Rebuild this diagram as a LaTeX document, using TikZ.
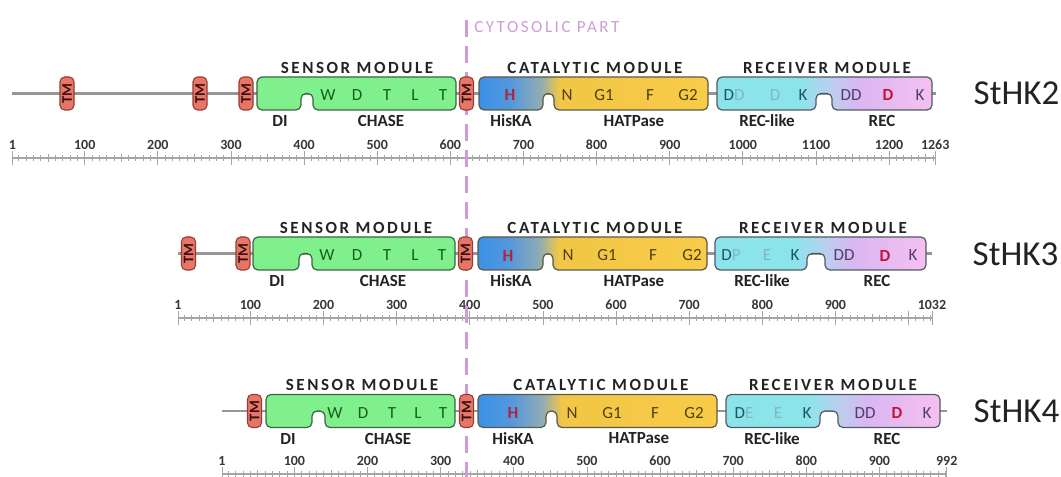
\documentclass[tikz,border=0pt]{standalone}
\usepackage{fontspec}
\setmainfont{Carlito}
\newfontfamily\titlefont[LetterSpace=15]{Carlito}
\newfontfamily\cytofont[LetterSpace=15]{Carlito}
\usetikzlibrary{calc}

\definecolor{bbgray}{RGB}{150,150,150}
\definecolor{tmfill}{RGB}{232,118,104}
\definecolor{tmdraw}{RGB}{150,60,50}
\definecolor{tmtext}{RGB}{55,15,15}
\definecolor{sensfill}{RGB}{128,240,140}
\definecolor{sensdraw}{RGB}{60,100,70}
\definecolor{sensl}{RGB}{20,95,30}
\definecolor{catdraw}{RGB}{90,90,70}
\definecolor{catA}{RGB}{58,145,232}
\definecolor{catB}{RGB}{85,152,220}
\definecolor{catC}{RGB}{145,172,180}
\definecolor{catD}{RGB}{242,198,70}
\definecolor{catE}{RGB}{248,204,72}
\definecolor{catl}{RGB}{80,62,15}
\definecolor{hcol}{RGB}{175,35,60}
\definecolor{recdraw}{RGB}{80,90,100}
\definecolor{recA}{RGB}{140,228,235}
\definecolor{recB}{RGB}{190,205,238}
\definecolor{recC}{RGB}{218,182,242}
\definecolor{recD}{RGB}{246,192,240}
\definecolor{recd}{RGB}{30,85,95}
\definecolor{recl}{RGB}{125,185,190}
\definecolor{recp}{RGB}{80,60,110}
\definecolor{redD}{RGB}{195,20,55}
\definecolor{labc}{RGB}{35,35,35}
\definecolor{rulc}{RGB}{165,165,165}
\definecolor{rlabc}{RGB}{55,55,55}
\definecolor{cyto}{RGB}{208,155,216}

\pgfdeclarehorizontalshading{catshade}{100bp}{color(0bp)=(catA); color(25bp)=(catA); color(32bp)=(catB); color(38.5bp)=(catC); color(42.5bp)=(catD); color(75bp)=(catE); color(100bp)=(catE)}
\pgfdeclarehorizontalshading{recshade}{100bp}{color(0bp)=(recA); color(25bp)=(recA); color(44bp)=(recA); color(52bp)=(recB); color(58bp)=(recC); color(75bp)=(recD); color(100bp)=(recD)}

\def\sc{0.7313}

\tikzset{
  backbone/.style={draw=bbgray, line width=1.6pt},
  tmbox/.style={draw=tmdraw, fill=tmfill, line width=0.8pt, rounded corners=3.5pt,
    rotate=90, minimum width=24.75pt, minimum height=10.5pt, inner sep=0pt,
    font=\bfseries\fontsize{11}{11}\selectfont, text=tmtext},
  sensbox/.style={draw=sensdraw, fill=sensfill, line width=0.9pt, rounded corners=3.75pt},
  catbox/.style={draw=catdraw, shade, shading=catshade, line width=0.9pt, rounded corners=3.75pt},
  recbox/.style={draw=recdraw, shade, shading=recshade, line width=0.9pt, rounded corners=3.75pt},
  lt/.style={font=\fontsize{12.75}{14}\selectfont, inner sep=0pt},
  dlab/.style={font=\bfseries\fontsize{12.75}{14}\selectfont, text=labc, inner sep=0pt},
  mtitle/.style={font=\titlefont\bfseries\fontsize{12.75}{14}\selectfont, text=labc, inner sep=0pt},
  pname/.style={font=\fontsize{26.25}{28}\selectfont, text=labc, inner sep=0pt},
  rline/.style={draw=rulc, line width=0.9pt},
  rtick/.style={draw=rulc, line width=0.6pt},
  rlab/.style={font=\bfseries\fontsize{10.5}{12}\selectfont, text=rlabc, inner sep=0pt},
  cytoline/.style={draw=cyto, line width=2.25pt, dash pattern=on 12.75pt off 6.75pt},
}

% domain box with a notch in the bottom edge: x1, x2, yc, n1, n2, style
\newcommand\dombox[6]{%
  \path[#6] (#1,{#3-16.5}) -- (#2,{#3-16.5}) -- (#2,{#3+16.5}) -- (#5,{#3+16.5})
    -- (#5,#3) -- (#4,#3) -- (#4,{#3+16.5}) -- (#1,{#3+16.5}) -- cycle;}

% ruler: prefix, x0, y, N, max labelled hundred
\newcommand\ruler[5]{%
  \coordinate (#1a) at (#2,#3);
  \coordinate (#1b) at ({#2+(#4-1)*\sc},#3);
  \draw[rline] (#1a) -- (#1b);
  \foreach \r in {10,20,...,1260}{\ifnum\r<#4 \draw[rtick] ({#2+(\r-1)*\sc},{#3-3}) -- ++(0,6);\fi}
  \foreach \r in {50,150,...,1250}{\ifnum\r<#4 \draw[rtick] ({#2+(\r-1)*\sc},{#3-4}) -- ++(0,8);\fi}
  \foreach \r in {100,200,...,1200}{\ifnum\r<#4 \draw[rtick] ({#2+(\r-1)*\sc},{#3-7}) -- ++(0,14);\fi}
  \draw[rtick] ($(#1a)+(0,-7)$) -- ($(#1a)+(0,7)$);
  \draw[rtick] ($(#1b)+(0,-7)$) -- ($(#1b)+(0,7)$);
  \node[rlab] (#1l1) at ($(#1a)+(0,-13)$) {1};
  \node[rlab] (#1lN) at ($(#1b)+(0,-13)$) {#4};
  \foreach \r in {100,200,...,1200}{\ifnum\r<#5 \node[rlab] (#1l\r) at ({#2+(\r-1)*\sc},{#3-13}) {\r};\fi}
}

\newcommand\lett[5]{\node[lt, text=#4] (#1) at (#2,#3) {#5};}

\begin{document}
\begin{tikzpicture}[x=0.75pt,y=-0.75pt]
\useasboundingbox (0,0) rectangle (1061,477);

% rulers
\ruler{ra}{12.3}{158}{1263}{1201}
\ruler{rb}{178}{318}{1032}{901}
\ruler{rc}{222}{474}{992}{901}

% cytosolic border
\coordinate (dtop) at (466.5,20);
\coordinate (dbot) at (466.5,477);
\draw[cytoline] (dtop) -- (dbot);
\node[font=\cytofont\fontsize{12.75}{14}\selectfont, text=cyto, anchor=west, inner sep=0pt] (cytolab) at (474,27) {CYTOSOLIC PART};

% ================= StHK2 =================
\coordinate (b1s) at (12,93.5); \coordinate (b1e) at (936,93.5);
\draw[backbone] (b1s) -- (b1e);
\dombox{257}{456}{93.5}{301}{313}{sensbox}
\dombox{479}{708}{93.5}{543}{554}{catbox}
\dombox{717}{932}{93.5}{816}{832}{recbox}
\node[tmbox] (t1a) at (67,93.5) {TM};
\node[tmbox] (t1b) at (200,93.5) {TM};
\node[tmbox] (t1c) at (246,93.5) {TM};
\node[tmbox] (t1d) at (466.5,93.5) {TM};
\lett{a1}{328}{95}{sensl}{W}
\lett{a2}{357}{95}{sensl}{D}
\lett{a3}{387}{95}{sensl}{T}
\lett{a4}{415}{95}{sensl}{L}
\lett{a5}{443}{95}{sensl}{T}
\lett{a6}{510}{95}{hcol}{\bfseries H}
\lett{a7}{567}{95}{catl}{N}
\lett{a8}{604}{95}{catl}{G1}
\lett{a9}{650}{95}{catl}{F}
\lett{a10}{688}{95}{catl}{G2}
\lett{a11}{734}{95}{recd}{D\textcolor{recl}{D}}
\lett{a12}{775}{95}{recl}{D}
\lett{a13}{803}{95}{recd}{K}
\lett{a14}{851}{95}{recp}{DD}
\lett{a15}{888}{95}{redD}{\bfseries D}
\lett{a16}{920}{95}{recp}{K}
\node[dlab] (l1a) at (280,121) {DI};
\node[dlab] (l1b) at (381,121) {CHASE};
\node[dlab] (l1c) at (511,121) {HisKA};
\node[dlab] (l1d) at (634,121) {HATPase};
\node[dlab] (l1e) at (767,121) {REC-like};
\node[dlab] (l1f) at (882,121) {REC};
\node[mtitle] (m1a) at (357,67.5) {SENSOR MODULE};
\node[mtitle] (m1b) at (595,67.5) {CATALYTIC MODULE};
\node[mtitle] (m1c) at (827,67.5) {RECEIVER MODULE};
\node[pname] (p1) at (1016.5,93) {StHK2};

% ================= StHK3 =================
\coordinate (b2s) at (178,253.5); \coordinate (b2e) at (932,253.5);
\draw[backbone] (b2s) -- (b2e);
\dombox{253}{455}{253.5}{299}{312}{sensbox}
\dombox{478}{707}{253.5}{543}{553}{catbox}
\dombox{715}{926}{253.5}{807}{825}{recbox}
\node[tmbox] (t2a) at (188.5,253.5) {TM};
\node[tmbox] (t2b) at (243,253.5) {TM};
\node[tmbox] (t2c) at (465.5,253.5) {TM};
\lett{b1}{327}{255.5}{sensl}{W}
\lett{b2}{357}{255.5}{sensl}{D}
\lett{b3}{387}{255.5}{sensl}{T}
\lett{b4}{415}{255.5}{sensl}{L}
\lett{b5}{442}{255.5}{sensl}{T}
\lett{b6}{508}{255.5}{hcol}{\bfseries H}
\lett{b7}{568}{255.5}{catl}{N}
\lett{b8}{607}{255.5}{catl}{G1}
\lett{b9}{653}{255.5}{catl}{F}
\lett{b10}{692}{255.5}{catl}{G2}
\lett{b11}{731}{255.5}{recd}{D\textcolor{recl}{P}}
\lett{b12}{767}{255.5}{recl}{E}
\lett{b13}{795}{255.5}{recd}{K}
\lett{b14}{844}{255.5}{recp}{DD}
\lett{b15}{885}{255.5}{redD}{\bfseries D}
\lett{b16}{913}{255.5}{recp}{K}
\node[dlab] (l2a) at (277,281) {DI};
\node[dlab] (l2b) at (383,281) {CHASE};
\node[dlab] (l2c) at (511,281) {HisKA};
\node[dlab] (l2d) at (634,281) {HATPase};
\node[dlab] (l2e) at (762,281) {REC-like};
\node[dlab] (l2f) at (877,281) {REC};
\node[mtitle] (m2a) at (356,227.5) {SENSOR MODULE};
\node[mtitle] (m2b) at (595,227.5) {CATALYTIC MODULE};
\node[mtitle] (m2c) at (823,227.5) {RECEIVER MODULE};
\node[pname] (p2) at (1015.5,254) {StHK3};

% ================= StHK4 =================
\coordinate (b3s) at (222,411); \coordinate (b3e) at (947,411);
\draw[backbone] (b3s) -- (b3e);
\dombox{266}{455}{411}{312}{325}{sensbox}
\dombox{478}{717}{411}{546}{557}{catbox}
\dombox{726}{940}{411}{820}{838}{recbox}
\node[tmbox] (t3a) at (254.5,411) {TM};
\node[tmbox] (t3b) at (466.5,411) {TM};
\lett{c1}{335}{413}{sensl}{W}
\lett{c2}{363}{413}{sensl}{D}
\lett{c3}{392}{413}{sensl}{T}
\lett{c4}{418}{413}{sensl}{L}
\lett{c5}{443}{413}{sensl}{T}
\lett{c6}{513}{413}{hcol}{\bfseries H}
\lett{c7}{572}{413}{catl}{N}
\lett{c8}{612}{413}{catl}{G1}
\lett{c9}{655}{413}{catl}{F}
\lett{c10}{694}{413}{catl}{G2}
\lett{c11}{744}{413}{recd}{D\textcolor{recl}{E}}
\lett{c12}{778}{413}{recl}{E}
\lett{c13}{807}{413}{recd}{K}
\lett{c14}{865}{413}{recp}{DD}
\lett{c15}{897}{413}{redD}{\bfseries D}
\lett{c16}{927}{413}{recp}{K}
\node[dlab] (l3a) at (288,438.5) {DI};
\node[dlab] (l3b) at (388,438.5) {CHASE};
\node[dlab] (l3c) at (513,438.5) {HisKA};
\node[dlab] (l3d) at (639,438.5) {HATPase};
\node[dlab] (l3e) at (772,438.5) {REC-like};
\node[dlab] (l3f) at (887,438.5) {REC};
\node[mtitle] (m3a) at (362,385) {SENSOR MODULE};
\node[mtitle] (m3b) at (601,385) {CATALYTIC MODULE};
\node[mtitle] (m3c) at (833,385) {RECEIVER MODULE};
\node[pname] (p3) at (1016.5,411) {StHK4};
\end{tikzpicture}
\end{document}
